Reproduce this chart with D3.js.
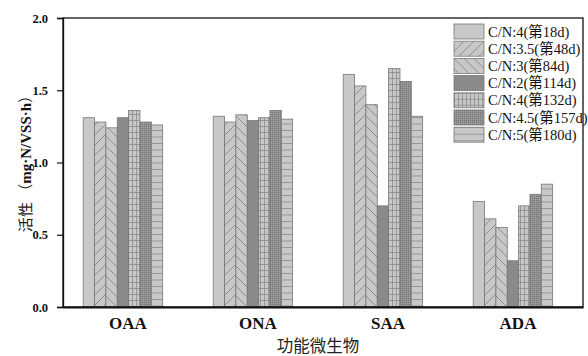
<!DOCTYPE html>
<html>
<head>
<meta charset="utf-8">
<script src="https://cdn.jsdelivr.net/npm/d3@7"></script>
<style>
  html, body { margin: 0; padding: 0; background: #fff; }
  svg { display: block; font-family: "Liberation Serif", "Noto Sans CJK SC", serif; }
</style>
</head>
<body>
<svg id="chart" width="588" height="356"></svg>
<script>
// Functional microbe groups
const categories = ["OAA", "ONA", "SAA", "ADA"];
// Operating stages (C/N ratio and day)
const series = ["C/N:4(第18d)", "C/N:3.5(第48d)", "C/N:3(第84d)", "C/N:2(第114d)",
                "C/N:4(第132d)", "C/N:4.5(第157d)", "C/N:5(第180d)"];
// Activity values, one array per stage, ordered as categories
const s18  = [1.31, 1.32, 1.61, 0.73];
const s48  = [1.28, 1.28, 1.53, 0.61];
const s84  = [1.24, 1.33, 1.40, 0.55];
const s114 = [1.31, 1.29, 0.70, 0.32];
const s132 = [1.36, 1.31, 1.65, 0.70];
const s157 = [1.28, 1.36, 1.56, 0.78];
const s180 = [1.26, 1.30, 1.32, 0.85];
const yTicks = [0, 0.5, 1.0, 1.5, 2.0];

const values = [s18, s48, s84, s114, s132, s157, s180];
const fills = ["url(#p0)", "url(#p1)", "url(#p2)", "url(#p3)", "url(#p4)", "url(#p5)", "url(#p6)"];

const svg = d3.select("#chart");
const mLeft = 63, mRight = 583, mTop = 18, mBottom = 307;
const serif = "'Liberation Serif', 'Noto Sans CJK SC', serif";
const cjk = "'Noto Sans CJK SC', sans-serif";

// Hatch patterns
const defs = svg.append("defs");
const light = "#c8c8c8", lineC = "#7d7d7d";
function pat(id, w, h, draw) {
  const p = defs.append("pattern").attr("id", id).attr("patternUnits", "userSpaceOnUse")
    .attr("width", w).attr("height", h);
  draw(p);
}
pat("p0", 4, 4, p => p.append("rect").attr("width", 4).attr("height", 4).attr("fill", light));
pat("p1", 10, 10, p => {
  p.append("rect").attr("width", 10).attr("height", 10).attr("fill", light);
  p.append("path").attr("d", "M-1,11 L11,-1 M-6,6 L6,-6 M4,16 L16,4").attr("stroke", lineC).attr("stroke-width", 0.8);
});
pat("p2", 10, 10, p => {
  p.append("rect").attr("width", 10).attr("height", 10).attr("fill", light);
  p.append("path").attr("d", "M-1,-1 L11,11 M-6,4 L6,16 M4,-6 L16,6").attr("stroke", lineC).attr("stroke-width", 0.8);
});
pat("p3", 4, 4, p => p.append("rect").attr("width", 4).attr("height", 4).attr("fill", "#8a8a8a"));
pat("p4", 4, 6, p => {
  p.append("rect").attr("width", 4).attr("height", 6).attr("fill", light);
  p.append("path").attr("d", "M0,0.5 H4 M0.5,0 V6").attr("stroke", "#8a8a8a").attr("stroke-width", 0.8);
});
pat("p5", 2, 2, p => {
  p.append("rect").attr("width", 2).attr("height", 2).attr("fill", "#a8a8a8");
  p.append("path").attr("d", "M0,0.5 H2 M0.5,0 V2").attr("stroke", "#7a7a7a").attr("stroke-width", 0.7);
});
pat("p6", 4, 6.5, p => {
  p.append("rect").attr("width", 4).attr("height", 6.5).attr("fill", light);
  p.append("path").attr("d", "M0,0.5 H4").attr("stroke", "#8e8e8e").attr("stroke-width", 0.9);
});

// Scales
const x0 = d3.scaleBand().domain(categories).range([mLeft, mRight]);
const x1 = d3.scaleBand().domain(series).range([0, x0.bandwidth()])
  .paddingInner(0).paddingOuter(2.23).align(0.4);
const y = d3.scaleLinear().domain([0, 2.0]).range([mBottom, mTop]);

// Bars
const rows = [];
categories.forEach((c, ci) => series.forEach((s, si) => rows.push({ c, s, si, v: values[si][ci] })));
svg.append("g").selectAll("rect").data(rows).join("rect")
  .attr("x", d => x0(d.c) + x1(d.s))
  .attr("y", d => y(d.v))
  .attr("width", x1.bandwidth())
  .attr("height", d => y(0) - y(d.v))
  .attr("fill", d => fills[d.si])
  .attr("stroke", "#777")
  .attr("stroke-width", 0.8);

// Frame
svg.append("rect").attr("x", mLeft).attr("y", mTop).attr("width", mRight - mLeft).attr("height", mBottom - mTop)
  .attr("fill", "none").attr("stroke", "#111").attr("stroke-width", 1.3);

// Y axis
const ya = svg.append("g").attr("transform", `translate(${mLeft},0)`)
  .call(d3.axisLeft(y).tickValues(yTicks).tickFormat(d3.format(".1f")).tickSize(6).tickPadding(9));
ya.select(".domain").attr("stroke", "#111").attr("stroke-width", 1.3);
ya.selectAll(".tick line").attr("stroke", "#111").attr("stroke-width", 1.2);
ya.selectAll(".tick text").attr("font-family", serif).attr("font-weight", "bold")
  .attr("font-size", 12.5).attr("fill", "#111");

// X axis
const xa = svg.append("g").attr("transform", `translate(0,${mBottom})`)
  .call(d3.axisBottom(x0).tickSize(0).tickPadding(10));
xa.select(".domain").attr("stroke", "#111").attr("stroke-width", 1.8);
xa.selectAll(".tick text").attr("font-family", serif).attr("font-weight", "bold")
  .attr("font-size", 17).attr("fill", "#111");

// Axis titles
svg.append("text").attr("x", 318).attr("y", 352).attr("text-anchor", "middle")
  .attr("font-family", cjk).attr("font-size", 16.5).attr("fill", "#222").text("功能微生物");

const yt = svg.append("text").attr("transform", "translate(31,160) rotate(-90)")
  .attr("text-anchor", "middle").attr("font-size", 15).attr("fill", "#111");
yt.append("tspan").attr("font-family", cjk).attr("fill", "#222").text("活性 （");
yt.append("tspan").attr("font-family", serif).attr("font-weight", "bold").text("mg·N/VSS·h");
yt.append("tspan").attr("font-family", cjk).attr("fill", "#222").text("）");

// Legend
const lg = svg.append("g").attr("transform", "translate(454,24)");
const item = lg.selectAll("g").data(series).join("g")
  .attr("transform", (d, i) => `translate(0,${i * 17.2})`);
item.append("rect").attr("width", 30).attr("height", 15)
  .attr("fill", (d, i) => fills[i]).attr("stroke", "#777").attr("stroke-width", 0.8);
item.append("text").attr("x", 34).attr("y", 12.5).attr("font-size", 14.5)
  .attr("font-family", serif).attr("fill", "#111").text(d => d);
</script>
</body>
</html>
